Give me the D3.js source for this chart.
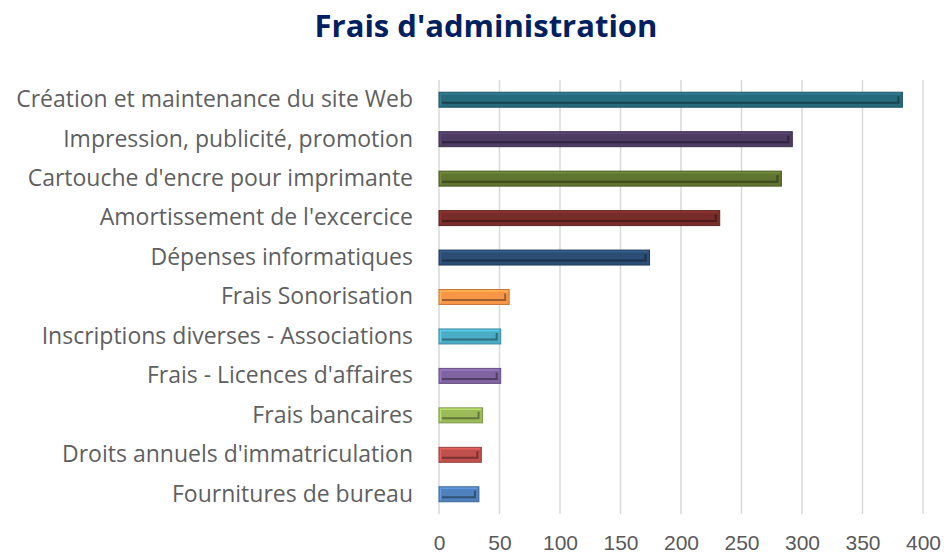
<!DOCTYPE html>
<html>
<head>
<meta charset="utf-8">
<script src="https://cdn.jsdelivr.net/npm/d3@7"></script>
<style>
  body { margin: 0; background: #fff; }
  text { font-family: "Open Sans", "Liberation Sans", sans-serif; }
</style>
</head>
<body>
<svg width="952" height="554"></svg>
<script>
// data (top to bottom)
const categories = [
  "Création et maintenance du site Web",
  "Impression, publicité, promotion",
  "Cartouche d'encre pour imprimante",
  "Amortissement de l'excercice",
  "Dépenses informatiques",
  "Frais Sonorisation",
  "Inscriptions diverses - Associations",
  "Frais - Licences d'affaires",
  "Frais bancaires",
  "Droits annuels d'immatriculation",
  "Fournitures de bureau"
];
const values = [383, 292, 283, 232, 174, 58, 51, 51, 36, 35, 33];
const barColors = ["#276A7C", "#4D3B62", "#5F7530", "#772C2A", "#2C4D75", "#F79646",
                   "#4BACC6", "#8064A2", "#9BBB59", "#C0504D", "#4F81BD"];
const tickValues = [0, 50, 100, 150, 200, 250, 300, 350, 400];

const svg = d3.select("svg");
const margin = {left: 439, right: 29, top: 80, bottom: 40};
const width = 952, height = 554;

const x = d3.scaleLinear().domain([0, 400]).range([margin.left, width - margin.right]);
const y = d3.scaleBand().domain(categories).range([margin.top, height - margin.bottom]).paddingInner(0.62).paddingOuter(0.31);

// title
svg.append("text")
    .attr("x", 486).attr("y", 37)
    .attr("text-anchor", "middle")
    .attr("font-size", 31).attr("font-weight", "bold")
    .attr("fill", "#002060")
    .text("Frais d'administration");

// gridlines
svg.append("g").selectAll("line")
  .data(tickValues)
  .enter().append("line")
    .attr("x1", d => x(d)).attr("x2", d => x(d))
    .attr("y1", margin.top).attr("y2", height - margin.bottom)
    .attr("stroke", "#d9d9d9").attr("stroke-width", 1.5);

// x axis labels
const xAxis = svg.append("g")
    .attr("transform", `translate(0,${height - margin.bottom})`)
    .call(d3.axisBottom(x).tickValues(tickValues).tickSize(0).tickPadding(21));
xAxis.select(".domain").remove();
xAxis.selectAll("text").attr("font-size", 21).attr("fill", "#595959")
    .style("font-family", "'Liberation Sans', sans-serif");

// category labels
const yAxis = svg.append("g")
    .attr("transform", `translate(${margin.left},0)`)
    .call(d3.axisLeft(y).tickSize(0).tickPadding(26));
yAxis.select(".domain").remove();
yAxis.selectAll("text").attr("font-size", 23).attr("fill", "#5f5f5f");

// bars with bevel look
const bars = svg.append("g").selectAll("g")
  .data(categories)
  .enter().append("g");

bars.append("rect")
    .attr("x", x(0))
    .attr("y", d => y(d))
    .attr("width", (d, i) => x(values[i]) - x(0))
    .attr("height", y.bandwidth())
    .attr("fill", (d, i) => barColors[i])
    .attr("stroke", (d, i) => d3.color(barColors[i]).darker(0.6))
    .attr("stroke-width", 1);

// light top/left edge
bars.append("path")
    .attr("d", (d, i) => {
      const x0 = x(0) + 1.5, x1 = x(values[i]) - 1.5, y0 = y(d) + 1.5, y1 = y(d) + y.bandwidth() - 1.5;
      return `M${x0},${y1} L${x0},${y0} L${x1},${y0}`;
    })
    .attr("fill", "none")
    .attr("stroke", (d, i) => d3.color(barColors[i]).brighter(0.5))
    .attr("stroke-width", 1.5);

// dark inner line bottom/right
bars.append("path")
    .attr("d", (d, i) => {
      const x0 = x(0) + 3, x1 = x(values[i]) - 4, y0 = y(d) + 4, y1 = y(d) + y.bandwidth() - 4.5;
      return `M${x0},${y1} L${x1},${y1} L${x1},${y0}`;
    })
    .attr("fill", "none")
    .attr("stroke", (d, i) => d3.color(barColors[i]).darker(1.3))
    .attr("stroke-width", 2);
</script>
</body>
</html>
